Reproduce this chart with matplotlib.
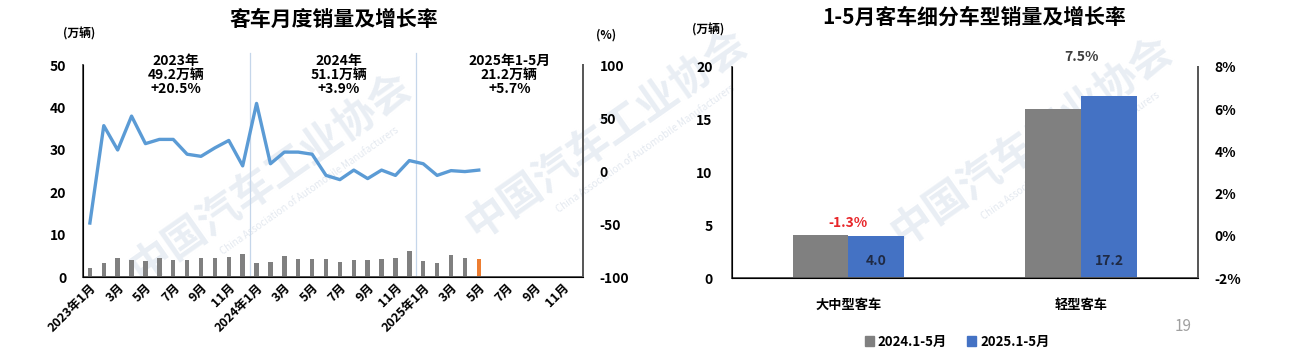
import matplotlib.pyplot as plt
import numpy as np
from matplotlib.patches import Patch

plt.rcParams['font.family'] = ['Noto Sans CJK SC', 'DejaVu Sans']
plt.rcParams['font.weight'] = 'bold'
plt.rcParams['axes.unicode_minus'] = False

# ---- data: monthly bus sales (万辆) and YoY growth (%) ----
sales_2023 = [2.1, 3.3, 4.5, 3.9, 3.7, 4.5, 4.0, 4.0, 4.5, 4.4, 4.8, 5.5]
sales_2024 = [3.4, 3.5, 5.0, 4.3, 4.2, 4.3, 3.6, 4.0, 4.1, 4.2, 4.4, 6.1]
sales_2025 = [3.8, 3.4, 5.1, 4.5, 4.3]
growth_2023 = [-49, 43, 20, 52, 26, 30, 30, 16, 14, 22, 29, 5]
growth_2024 = [64, 7, 18, 18, 16, -4, -8, 1, -7, 1, -4, 10]
growth_2025 = [7, -4, 0.5, -0.4, 1]
month_labels = ['2023年1月', '', '3月', '', '5月', '', '7月', '', '9月', '', '11月', '',
                '2024年1月', '', '3月', '', '5月', '', '7月', '', '9月', '', '11月', '',
                '2025年1月', '', '3月', '', '5月', '', '7月', '', '9月', '', '11月', '']
year_notes = ['2023年\n49.2万辆\n+20.5%', '2024年\n51.1万辆\n+3.9%', '2025年1-5月\n21.2万辆\n+5.7%']

# ---- data: Jan-May segment sales ----
segments = ['大中型客车', '轻型客车']
seg_2024 = [4.05, 16.0]
seg_2025 = [4.0, 17.2]
seg_growth = [-1.3, 7.5]

GRAY = '#808080'
BLUE = '#4472C4'
LINE = '#5B9BD5'
SPINE = '#595959'

fig = plt.figure(figsize=(12.9, 3.54), dpi=100)

# watermark (behind everything)
for (wx, wy) in [(0.21, 0.5), (0.47, 0.62), (0.8, 0.6)]:
    fig.text(wx, wy, '中国汽车工业协会', fontsize=30, color='#e9eef4', rotation=35,
             ha='center', va='center', zorder=-5)
    fig.text(wx + 0.03, wy - 0.04, 'China Association of Automobile Manufacturers', fontsize=7,
             color='#e4e9f0', rotation=35, ha='center', va='center', zorder=-5, fontweight='normal')

# ---------------- left chart ----------------
ax = fig.add_axes([0.0643, 0.2175, 0.3876, 0.598])
sales = sales_2023 + sales_2024 + sales_2025
growth = growth_2023 + growth_2024 + growth_2025
x = np.arange(len(sales))
colors = [GRAY] * (len(sales) - 1) + ['#ED7D31']
ax.bar(x, sales, width=0.32, color=colors, zorder=2)
ax.set_xlim(-0.5, 35.5)
ax.set_ylim(0, 50)
ax.set_yticks(range(0, 51, 10))
ax.set_xticks(range(36))
ax.set_xticklabels(month_labels, rotation=45, ha='right', rotation_mode='anchor', fontsize=9)
ax.tick_params(length=0, labelsize=10, pad=12)
ax.tick_params(axis='x', labelsize=9, pad=3)
ax.spines['top'].set_visible(False)
for s in ['left', 'bottom', 'right']:
    ax.spines[s].set_color(SPINE)
    ax.spines[s].set_linewidth(1.4)
ax.patch.set_alpha(0)

for xv in [11.5, 23.5]:
    ax.plot([xv, xv], [0, 53], color='#c5d6ea', lw=0.9, clip_on=False, zorder=1)

ax2 = ax.twinx()
ax2.plot(x[:len(growth)], growth, color=LINE, lw=2.4, zorder=3)
ax2.set_ylim(-100, 100)
ax2.set_yticks([-100, -50, 0, 50, 100])
ax2.tick_params(length=0, labelsize=10, pad=12)
ax2.spines['top'].set_visible(False)
ax2.spines['right'].set_color(SPINE)
ax2.spines['right'].set_linewidth(1.4)
ax2.patch.set_alpha(0)

for xv, note in zip([6.2, 17.9, 30.2], year_notes):
    ax.text(xv, 52.6, note, ha='center', va='top', fontsize=10, linespacing=1.0)

fig.text(0.259, 0.945, '客车月度销量及增长率', ha='center', va='center', fontsize=15)
fig.text(0.061, 0.905, '(万辆)', ha='center', va='center', fontsize=8.5)
fig.text(0.470, 0.9, '(%)', ha='center', va='center', fontsize=8.5)

# ---------------- right chart ----------------
bx = fig.add_axes([0.5674, 0.2138, 0.3612, 0.5977])
xs = np.arange(len(segments))
w = 0.24
bx.bar(xs - w / 2, seg_2024, width=w, color=GRAY, label='2024.1-5月', zorder=2)
bx.bar(xs + w / 2, seg_2025, width=w, color=BLUE, label='2025.1-5月', zorder=2)
bx.set_xlim(-0.5, 1.5)
bx.set_ylim(0, 20)
bx.set_yticks(range(0, 21, 5))
bx.set_xticks(xs)
bx.set_xticklabels(segments, fontsize=9.5)
bx.tick_params(length=0, labelsize=10, pad=14)
bx.tick_params(axis='x', pad=14, labelsize=9.5)
bx.spines['top'].set_visible(False)
for s in ['left', 'bottom', 'right']:
    bx.spines[s].set_color(SPINE)
    bx.spines[s].set_linewidth(1.4)
bx.patch.set_alpha(0)
for xi, v in zip(xs, seg_2025):
    bx.text(xi + w / 2, 1.6, f'{v:.1f}', ha='center', va='center', fontsize=10, color='#1f2a44')

bx.text(0, 5.2, f'{seg_growth[0]:.1f}%', ha='center', va='center', fontsize=10, color='#e8262a')
bx.text(1, 20.9, f'{seg_growth[1]:.1f}%', ha='center', va='center', fontsize=10, color='#404040')

bx2 = bx.twinx()
bx2.set_ylim(-2, 8)
bx2.set_yticks(range(-2, 9, 2))
bx2.set_yticklabels([f'{t}%' for t in range(-2, 9, 2)])
bx2.tick_params(length=0, labelsize=10, pad=12)
bx2.spines['top'].set_visible(False)
bx2.spines['right'].set_color(SPINE)
bx2.spines['right'].set_linewidth(1.4)
bx2.patch.set_alpha(0)

fig.text(0.755, 0.95, '1-5月客车细分车型销量及增长率', ha='center', va='center', fontsize=15)
fig.text(0.549, 0.915, '(万辆)', ha='center', va='center', fontsize=8.5)
fig.text(0.917, 0.077, '19', ha='center', va='center', fontsize=11, color='#a0a0a0', fontweight='normal')

handles = [Patch(color=GRAY), Patch(color=BLUE)]
fig.legend(handles, ['2024.1-5月', '2025.1-5月'], loc='center', bbox_to_anchor=(0.742, 0.035),
           ncol=2, frameon=False, fontsize=9.5, handlelength=0.7, handleheight=0.7,
           handletextpad=0.3, columnspacing=1.5)

plt.savefig('out.png', dpi=100)
